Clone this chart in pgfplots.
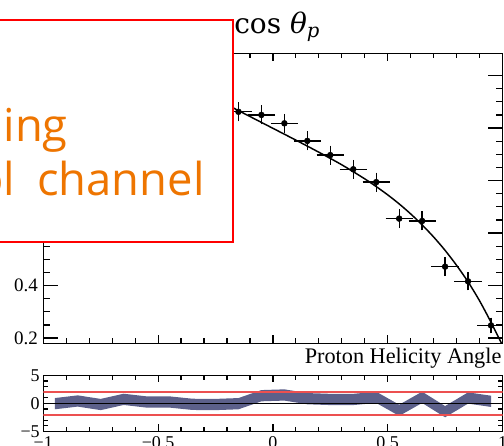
\documentclass[border=0pt]{standalone}
\usepackage{pgfplots}
\pgfplotsset{compat=1.18}
\usepackage{pgfplotstable}
\usepackage{fontspec}
\setmainfont{Liberation Serif}
\newfontfamily\osans{Open Sans}
\newfontfamily\dvserif{DejaVu Serif}
\definecolor{bandcol}{RGB}{92,96,138}
\definecolor{redline}{RGB}{236,80,80}
\definecolor{ovorange}{RGB}{238,117,0}
\definecolor{boxred}{RGB}{255,0,0}

\pgfplotstableread{
x y ey
-0.15 1.062 0.028
-0.05 1.050 0.028
0.05 1.018 0.028
0.15 0.951 0.028
0.25 0.897 0.028
0.35 0.843 0.028
0.45 0.794 0.028
0.55 0.655 0.028
0.65 0.646 0.028
0.75 0.472 0.028
0.85 0.416 0.026
0.95 0.248 0.022
}\datatable

\pgfplotstableread{
x y
-0.30 1.134
-0.20 1.089
-0.10 1.044
0.00 0.999
0.10 0.954
0.20 0.908
0.30 0.860
0.40 0.8065
0.45 0.777
0.50 0.7455
0.55 0.711
0.60 0.673
0.65 0.631
0.70 0.585
0.75 0.534
0.80 0.477
0.85 0.414
0.90 0.342
0.95 0.260
1.00 0.172
}\fittable

\begin{document}
\begin{tikzpicture}
\useasboundingbox (0pt,0pt) rectangle (378pt,334.5pt);
\clip (0pt,0pt) rectangle (378pt,334.5pt);

% main panel
\begin{axis}[
  at={(32.475pt,77.025pt)}, anchor=south west, scale only axis,
  width=344.4pt, height=217.35pt,
  xmin=-1, xmax=1, ymin=0.18, ymax=1.284,
  xtick={-1,-0.5,0,0.5,1}, xticklabels={}, minor x tick num=4,
  ytick={0.2,0.4,0.6,0.8,1.0,1.2}, yticklabels={0.2,0.4,0.6,0.8,1,1.2},
  minor y tick num=3,
  tick align=inside, xtick pos=both, ytick pos=both,
  axis line style={line width=1pt},
  tick style={black, line width=0.9pt},
  major tick length=8pt, minor tick length=4pt,
  every major x tick/.append style={/pgfplots/major tick length=6pt},
  every minor x tick/.append style={/pgfplots/minor tick length=3.6pt},
  every major y tick/.append style={/pgfplots/major tick length=11pt},
  every minor y tick/.append style={/pgfplots/minor tick length=5.2pt},
  yticklabel style={font=\fontsize{14.25}{16}\selectfont, inner sep=0pt, xshift=-3.8pt},
  xlabel={Proton Helicity Angle},
  xlabel style={at={(axis description cs:1,0)}, anchor=base east, inner sep=0pt,
    yshift=-15pt, xshift=-0.6pt, font=\fontsize{16.7}{19}\selectfont},
]
\addplot[black, line width=1.1pt, smooth, no marks] table[x=x,y=y] {\fittable};
\addplot[black, only marks, mark=*, mark size=2.2pt,
  error bars/.cd, x dir=both, x fixed=0.05, y dir=both, y explicit,
  error bar style={line width=1pt},
  error mark options={line width=1pt, mark size=1.6pt}]
  table[x=x, y=y, y error=ey] {\datatable};
\end{axis}

% pull panel
\begin{axis}[
  at={(32.475pt,10.875pt)}, anchor=south west, scale only axis,
  width=344.4pt, height=42.15pt,
  xmin=-1, xmax=1, ymin=-5, ymax=5,
  xtick={-1,-0.5,0,0.5,1}, xticklabels={−1,−0.5,0,0.5,1}, minor x tick num=4,
  ytick={-5,0,5}, yticklabels={−5,0,5}, minor y tick num=4,
  tick align=inside, xtick pos=both, ytick pos=both,
  axis line style={line width=1pt},
  tick style={black, line width=0.9pt},
  major tick length=5.3pt, minor tick length=3.2pt,
  xticklabel style={font=\fontsize{13.5}{15}\selectfont, inner sep=0pt, yshift=-3.5pt},
  yticklabel style={font=\fontsize{13.5}{15}\selectfont, inner sep=0pt, xshift=-2.5pt},
]
\addplot[fill=bandcol, draw=none] coordinates {
(-0.95,0.95) (-0.85,1.43) (-0.75,0.80) (-0.65,1.72) (-0.55,1.25) (-0.45,1.25)
(-0.35,0.83) (-0.25,0.80) (-0.15,0.95) (-0.05,2.37) (0.05,2.50) (0.15,1.84)
(0.25,1.70) (0.35,1.70) (0.45,2.08) (0.55,-0.23) (0.65,2.08) (0.75,-0.47)
(0.85,1.96) (0.95,1.37)
(0.95,-0.63) (0.85,-0.04) (0.75,-2.47) (0.65,0.08) (0.55,-2.23) (0.45,0.08)
(0.35,-0.30) (0.25,-0.30) (0.15,-0.16) (0.05,0.50) (-0.05,0.37) (-0.15,-1.05)
(-0.25,-1.20) (-0.35,-1.17) (-0.45,-0.75) (-0.55,-0.75) (-0.65,-0.28) (-0.75,-1.20)
(-0.85,-0.57) (-0.95,-1.05)
} -- cycle;
\addplot[redline, line width=1.5pt] coordinates {(-1,2) (1,2)};
\addplot[redline, line width=1.5pt] coordinates {(-1,-2) (1,-2)};
\addplot[black, line width=0.8pt] coordinates {(-1,0) (1,0)};
\end{axis}

% title
\node[anchor=base west, inner sep=0pt, font=\fontsize{21}{25}\selectfont\dvserif]
  at (175.5pt,309.5pt) {cos \textit{θ}\textsubscript{\textit{p}}};

% overlay box
\draw[boxred, line width=1.5pt, fill=white] (-7.5pt,153.2pt) rectangle (175pt,319.5pt);
\node[anchor=base west, inner sep=0pt, text=ovorange, font=\fontsize{34}{40}\selectfont\osans]
  at (2.55pt,228.3pt) {ing};
\node[anchor=base west, inner sep=0pt, text=ovorange, font=\fontsize{34}{40}\selectfont\osans]
  at (-18pt,187.5pt) {ol\hspace{0.49em}channel};
\end{tikzpicture}
\end{document}
